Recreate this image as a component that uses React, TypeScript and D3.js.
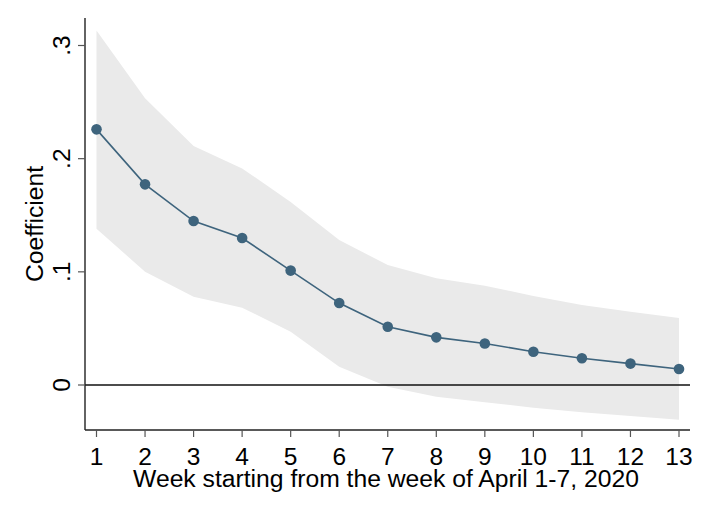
// @ts-nocheck
import * as d3 from "d3";

const weeks = [1, 2, 3, 4, 5, 6, 7, 8, 9, 10, 11, 12, 13];
const coef = [0.2259, 0.1773, 0.1449, 0.1299, 0.1011, 0.0724, 0.0515, 0.0421, 0.0367, 0.0294, 0.0236, 0.0189, 0.0141];
const upper = [0.3133, 0.2533, 0.2113, 0.1914, 0.1617, 0.1281, 0.106, 0.0943, 0.0878, 0.0786, 0.0707, 0.0648, 0.0592];
const lower = [0.1381, 0.1001, 0.078, 0.0683, 0.0471, 0.0162, -0.0015, -0.0103, -0.0152, -0.0201, -0.0241, -0.0274, -0.0306];
const yTicks = [0, 0.1, 0.2, 0.3];
const yTickLabels = ["0", ".1", ".2", ".3"];

const width = 709;
const height = 516;
const font = "'Liberation Sans', Arial, sans-serif";

export default function App() {
  const x = d3.scaleLinear([1, 13], [96.5, 679]);
  const y = d3.scaleLinear([0, 0.3], [385, 45.5]);
  const left = 85;
  const right = 690;
  const top = 18;
  const bottom = 430;

  const area = d3
    .area()
    .x((d, i) => x(weeks[i]))
    .y0((d, i) => y(lower[i]))
    .y1((d, i) => y(upper[i]));

  const line = d3
    .line()
    .x((d, i) => x(weeks[i]))
    .y((d) => y(d));

  return (
    <svg
      width={width}
      height={height}
      style={{ position: "absolute", left: 0, top: 0, background: "white" }}
      fontFamily={font}
    >
      <path d={area(weeks)} fill="#eaeaea" />
      <line x1={left} x2={right} y1={y(0)} y2={y(0)} stroke="#111" strokeWidth={1.4} />
      <path d={line(coef)} fill="none" stroke="#3e647d" strokeWidth={1.6} />
      {coef.map((v, i) => (
        <circle key={i} cx={x(weeks[i])} cy={y(v)} r={5.3} fill="#3e647d" />
      ))}

      {/* y axis */}
      <line x1={left} x2={left} y1={top} y2={bottom} stroke="#222" strokeWidth={1.4} />
      {yTicks.map((t, i) => (
        <g key={t}>
          <line x1={left - 7} x2={left} y1={y(t)} y2={y(t)} stroke="#555" strokeWidth={1.2} />
          <text
            transform={`translate(70,${y(t)}) rotate(-90)`}
            textAnchor="middle"
            fontSize={24.5}
            fill="#000"
          >
            {yTickLabels[i]}
          </text>
        </g>
      ))}
      <text
        transform={`translate(43,${(top + bottom) / 2}) rotate(-90)`}
        textAnchor="middle"
        fontSize={24.7}
        fill="#000"
      >
        Coefficient
      </text>

      {/* x axis */}
      <line x1={left} x2={right} y1={bottom} y2={bottom} stroke="#222" strokeWidth={1.4} />
      {weeks.map((w) => (
        <g key={w}>
          <line x1={x(w)} x2={x(w)} y1={bottom} y2={bottom + 7} stroke="#555" strokeWidth={1.2} />
          <text x={x(w)} y={465} textAnchor="middle" fontSize={24.5} fill="#000">
            {w}
          </text>
        </g>
      ))}
      <text x={386} y={487} textAnchor="middle" fontSize={24.7} fill="#000">
        Week starting from the week of April 1-7, 2020
      </text>
    </svg>
  );
}
